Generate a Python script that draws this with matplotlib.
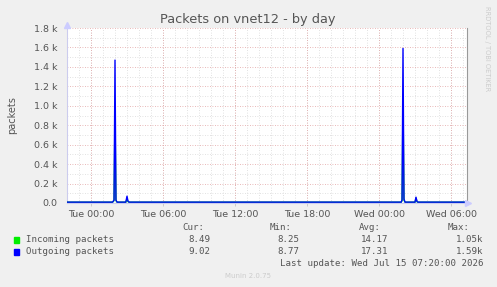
import matplotlib
matplotlib.use("Agg")
import matplotlib.pyplot as plt

# hours relative to Tue 00:00; window Mon 22:00 .. Wed 07:20
t_start, t_end = -2.0, 31.333

out_hours = [-2.0, 1.8, 1.92, 2.0, 2.08, 2.17, 2.9, 3.0, 3.08, 3.17,
             25.85, 25.92, 26.0, 26.08, 26.17, 27.0, 27.08, 27.17, 27.25, 31.333]
out_vals = [9, 9, 30, 1470, 30, 9, 9, 70, 20, 9,
            9, 30, 1590, 40, 9, 9, 60, 15, 9, 9]

in_hours = [-2.0, 1.8, 1.92, 2.0, 2.08, 2.17, 2.9, 3.0, 3.08, 3.17,
            25.85, 25.92, 26.0, 26.08, 26.17, 27.0, 27.08, 27.17, 27.25, 31.333]
in_vals = [8.5, 8.5, 25, 900, 25, 8.5, 8.5, 40, 15, 8.5,
           8.5, 25, 1050, 30, 8.5, 8.5, 50, 12, 8.5, 8.5]

xtick_hours = [0, 6, 12, 18, 24, 30]
xtick_labels = ["Tue 00:00", "Tue 06:00", "Tue 12:00", "Tue 18:00", "Wed 00:00", "Wed 06:00"]
ytick_vals = [0, 200, 400, 600, 800, 1000, 1200, 1400, 1600, 1800]
ytick_labels = ["0.0", "0.2 k", "0.4 k", "0.6 k", "0.8 k", "1.0 k", "1.2 k", "1.4 k", "1.6 k", "1.8 k"]

series_names = ["Incoming packets", "Outgoing packets"]
series_colors = ["#00ee00", "#0000ff"]
cur = ["8.49", "9.02"]
mins = ["8.25", "8.77"]
avgs = ["14.17", "17.31"]
maxs = ["1.05k", "1.59k"]

W, H = 497, 287
fig = plt.figure(figsize=(W / 100, H / 100), dpi=100)
fig.patch.set_facecolor("#f0f0f0")
ax = fig.add_axes([67 / W, (H - 203) / H, 400 / W, 175 / H])
ax.set_facecolor("white")
ax.set_xlim(t_start, t_end)
ax.set_ylim(0, 1800)

# minor grid
for h in range(-1, 32):
    ax.axvline(h, color="#d8d8d8", lw=0.6, ls=(0, (1, 2)), zorder=1)
for v in range(100, 1800, 200):
    ax.axhline(v, color="#d8d8d8", lw=0.6, ls=(0, (1, 2)), zorder=1)
# major grid
for h in xtick_hours:
    ax.axvline(h, color="#e0a0a0", lw=0.6, ls=(0, (1, 2)), zorder=1)
for v in ytick_vals[1:]:
    ax.axhline(v, color="#e0a0a0", lw=0.6, ls=(0, (1, 2)), zorder=1)

ax.plot(in_hours, in_vals, color=series_colors[0], lw=1.0, zorder=3)
ax.plot(out_hours, out_vals, color=series_colors[1], lw=1.0, zorder=4)

ax.set_xticks(xtick_hours)
ax.set_xticklabels(xtick_labels)
ax.set_yticks(ytick_vals)
ax.set_yticklabels(ytick_labels)
ax.tick_params(axis="both", labelsize=6.8, colors="#555555", length=2, width=0.5, pad=3)
ax.tick_params(axis="x", colors="#bbbbbb", labelcolor="#555555")
ax.tick_params(axis="y", length=0, labelcolor="#555555", pad=7)

ax.spines["top"].set_visible(False)
ax.spines["right"].set_color("#999999")
ax.spines["right"].set_linewidth(0.8)
ax.spines["left"].set_color("#ccccee")
ax.spines["bottom"].set_color("#ccccee")
ax.spines["left"].set_linewidth(0.8)
ax.spines["bottom"].set_linewidth(0.8)
ax.plot([t_end + 0.1], [0], marker=">", color="#ccccff", ms=4, clip_on=False, zorder=5)
ax.plot([t_start], [1800 + 30], marker="^", color="#ccccff", ms=4, clip_on=False, zorder=5)

ax.set_ylabel("packets", fontsize=7, color="#555555")
ax.yaxis.set_label_coords(-50 / 400, 0.5)

fig.text(248 / W, 1 - 19 / H, "Packets on vnet12 - by day", ha="center", va="center",
         fontsize=9.3, color="#555555")
fig.text(487 / W, 1 - 6 / H, "RRDTOOL / TOBI OETIKER", rotation=270, ha="center", va="top",
         fontsize=4.8, color="#cccccc")

mono = "DejaVu Sans Mono"
fs = 6.6
tc = "#555555"
hy = 1 - 227 / H
for label, xr in zip(["Cur:", "Min:", "Avg:", "Max:"], [204, 292, 381, 470]):
    fig.text(xr / W, hy, label, ha="right", va="center", family=mono, fontsize=fs, color=tc)
for i, name in enumerate(series_names):
    y = 1 - (240 + 12 * i) / H
    fig.patches.append(plt.Rectangle((14 / W, y - 3 / H), 5 / W, 6 / H,
                                     transform=fig.transFigure, color=series_colors[i]))
    fig.text(26 / W, y, name, ha="left", va="center", family=mono, fontsize=fs, color=tc)
    for val, xr in zip([cur[i], mins[i], avgs[i], maxs[i]], [210, 299, 388, 483]):
        fig.text(xr / W, y, val, ha="right", va="center", family=mono, fontsize=fs, color=tc)
fig.text(483 / W, 1 - 263 / H, "Last update: Wed Jul 15 07:20:00 2026", ha="right", va="center",
         family=mono, fontsize=fs, color=tc)
fig.text(248 / W, 1 - 276 / H, "Munin 2.0.75", ha="center", va="center",
         fontsize=5, color="#cccccc")

fig.savefig("out.png", dpi=100, facecolor=fig.get_facecolor())
